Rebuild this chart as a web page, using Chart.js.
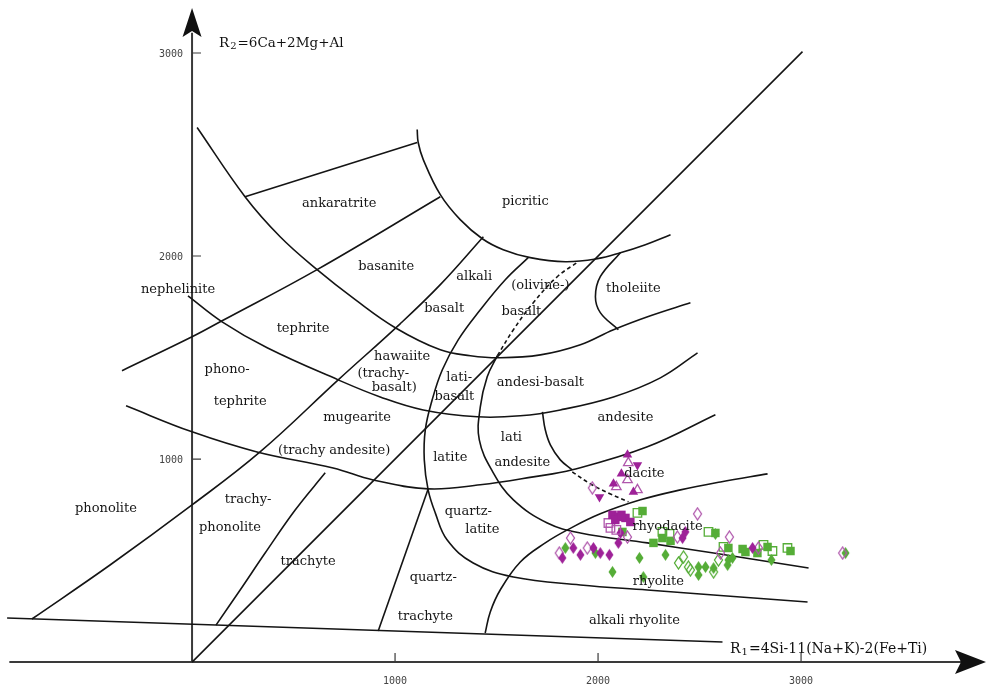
<!DOCTYPE html>
<html lang="en">
<head>
<meta charset="UTF-8" />
<title>R1-R2 diagram</title>
<script src="https://cdn.jsdelivr.net/npm/chart.js"></script>
<style>
	html, body { margin: 0; padding: 0; background: #fff; }
	#wrap { width: 986px; height: 684px; position: relative; }
</style>
</head>
<body>
<div id="wrap"><canvas id="r1r2"></canvas></div>
<script>
// axis ticks
const tickValues = [1000, 2000, 3000];

// field boundaries, points as [R1, R2]
const baseLine = [[-911, 217], [2613, 99]];
const phonoliteLine = [[-789, 212], [-404, 478], [0, 774], [335, 1035], [720, 1390], [1025, 1666], [1223, 1859], [1435, 2095]];
const diagonalLine = [[0, 0], [3007, 3007]];
const trachyteLine = [[118, 182], [237, 355], [360, 537], [508, 749], [656, 932]];
const quartzTrachyteLine = [[917, 153], [1163, 853]];
const alkaliRhyoliteLine = [[1444, 143], [1469, 247], [1518, 355], [1617, 493], [1740, 587], [1849, 651], [2011, 730], [2209, 799], [2406, 848], [2603, 887], [2835, 927]];
const latiteLine = [[1656, 1992], [1543, 1883], [1420, 1735], [1311, 1587], [1233, 1440], [1183, 1292], [1149, 1144], [1144, 996], [1163, 848], [1198, 735], [1257, 601], [1385, 488], [1583, 419], [1913, 380], [2243, 355], [2569, 330], [3032, 296]];
const rhyoliteLine = [[1504, 1509], [1454, 1405], [1420, 1257], [1415, 1094], [1484, 932], [1583, 799], [1750, 685], [1913, 636], [2243, 587], [2569, 537], [3037, 463]];
const andesiteLine = [[1726, 1232], [1740, 1144], [1765, 1070], [1814, 996], [1873, 947]];
const tholeiiteLine = [[2110, 2016], [2011, 1898], [1987, 1799], [2011, 1721], [2100, 1637]];
const picriticLine = [[1109, 2623], [1114, 2559], [1139, 2475], [1223, 2302], [1321, 2179], [1430, 2085], [1533, 2031], [1666, 1992], [1839, 1972], [1997, 1987], [2110, 2016], [2233, 2056], [2357, 2105]];
const ankaratriteLine = [[261, 2292], [1109, 2559]];
const basaniteLine = [[-345, 1435], [0, 1602], [148, 1681], [616, 1933], [1223, 2292]];
const nephelinitLine = [[25, 2633], [261, 2292], [434, 2095], [616, 1933], [804, 1785], [1001, 1647], [1223, 1538], [1371, 1509], [1518, 1499], [1716, 1513], [1913, 1563], [2076, 1637], [2258, 1706], [2455, 1770]];
const tephriteLine = [[-20, 1804], [148, 1676], [370, 1548], [720, 1390], [927, 1306], [1139, 1242], [1405, 1208], [1617, 1213], [1814, 1242], [2076, 1306], [2307, 1400], [2490, 1523]];
const mugeariteLine = [[-325, 1262], [0, 1134], [320, 1035], [695, 956], [892, 897], [1163, 853], [1420, 873], [1681, 912], [1873, 947], [2243, 1060], [2578, 1218]];
const olivineDash = [[1504, 1509], [1583, 1637], [1681, 1770], [1799, 1898], [1903, 1972]];
const daciteDash = [[1873, 937], [1962, 878], [2061, 828], [2150, 789]];

// samples
const magTriUp = [[2145, 1021], [2115, 927], [2076, 878], [2174, 838]];
const magTriDown = [[2194, 971], [2007, 813]];
const magTriOpen = [[2149, 981], [2145, 897], [2090, 863], [2194, 848]];
const magSquare = [[2071, 725], [2100, 715], [2135, 710], [2159, 690], [2085, 700], [2115, 725]];
const magSquareOpen = [[2051, 685], [2061, 661], [2090, 651]];
const magDiamond = [[1824, 513], [1878, 562], [1913, 528], [1977, 562], [2011, 537], [2056, 528], [2110, 636], [2100, 587], [2416, 611], [2430, 641], [2761, 562]];
const magDiamondOpen = [[1864, 611], [1809, 537], [1947, 562], [2145, 616], [1972, 858], [2391, 616], [2490, 730], [2647, 616], [2790, 562], [2603, 537], [3205, 537]];
const grnSquare = [[2219, 744], [2273, 587], [2317, 611], [2357, 597], [2578, 636], [2642, 562], [2712, 557], [2726, 542], [2835, 567], [2785, 537], [2948, 547], [2120, 641]];
const grnSquareOpen = [[2194, 735], [2317, 641], [2352, 631], [2544, 641], [2618, 567], [2815, 577], [2859, 547], [2933, 562]];
const grnDiamond = [[1839, 562], [1987, 537], [2071, 444], [2204, 513], [2223, 419], [2332, 528], [2495, 468], [2529, 468], [2495, 429], [2569, 463], [2638, 478], [2642, 503], [2662, 513], [2854, 503], [3219, 537], [2578, 631]];
const grnDiamondOpen = [[2421, 518], [2396, 488], [2445, 468], [2455, 454], [2569, 444], [2593, 503]];

// field names [text, R1, R2]
const fieldNames = [
	["ankaratrite", 725, 2258], ["picritic", 1642, 2268], ["basanite", 956, 1947],
	["alkali", 1390, 1898], ["(olivine-)", 1716, 1854], ["tholeiite", 2174, 1839],
	["nephelinite", -69, 1834], ["basalt", 1242, 1740], ["basalt", 1622, 1725],
	["tephrite", 547, 1642], ["hawaiite", 1035, 1504], ["phono-", 173, 1440],
	["(trachy-", 942, 1420], ["lati-", 1316, 1400], ["andesi-basalt", 1716, 1375],
	["basalt)", 996, 1351], ["basalt", 1292, 1306], ["tephrite", 237, 1282],
	["mugearite", 813, 1203], ["andesite", 2135, 1203], ["lati", 1573, 1104],
	["(trachy andesite)", 700, 1040], ["latite", 1272, 1006], ["andesite", 1627, 981],
	["dacite", 2228, 927], ["phonolite", -424, 754], ["trachy-", 276, 799],
	["quartz-", 1361, 739], ["phonolite", 187, 661], ["rhyodacite", 2342, 666],
	["latite", 1430, 651], ["trachyte", 572, 493], ["quartz-", 1188, 414],
	["rhyolite", 2297, 394], ["trachyte", 1149, 222], ["alkali rhyolite", 2179, 202],
];

const MAGENTA = "#9e2198";
const MAGENTA_LT = "#b057ac";
const GREEN = "#55ad37";

const xy = (arr) => arr.map((p) => ({ x: p[0], y: p[1] }));

// tall diamond marker drawn on a small canvas
function diamond(color, filled) {
	const c = document.createElement("canvas");
	c.width = 11;
	c.height = 14;
	const g = c.getContext("2d");
	g.beginPath();
	g.moveTo(5.5, 1);
	g.lineTo(9.5, 7);
	g.lineTo(5.5, 13);
	g.lineTo(1.5, 7);
	g.closePath();
	if (filled) {
		g.fillStyle = color;
		g.fill();
	} else {
		g.strokeStyle = color;
		g.lineWidth = 1.3;
		g.stroke();
	}
	return c;
}

function boundary(points, tension, dashed) {
	return {
		data: xy(points),
		showLine: true,
		borderColor: "#141414",
		borderWidth: 1.6,
		borderDash: dashed ? [4, 3] : [],
		pointRadius: 0,
		tension: tension,
		order: 2,
	};
}

function samples(points, style, color, filled, radius, rotation) {
	return {
		data: xy(points),
		pointStyle: style,
		pointRadius: radius,
		pointRotation: rotation || 0,
		backgroundColor: filled ? color : "rgba(255,255,255,0)",
		borderColor: color,
		borderWidth: filled ? 0 : 1.3,
		order: 1,
	};
}

// axes, arrows, tick labels and axis titles
const frame = {
	id: "frame",
	beforeDatasetsDraw(chart) {
		const { ctx, scales } = chart;
		const X = (v) => scales.x.getPixelForValue(v);
		const Y = (v) => scales.y.getPixelForValue(v);
		const x0 = X(0), y0 = Y(0);
		ctx.save();
		ctx.strokeStyle = "#3a3a3a";
		ctx.fillStyle = "#111";
		ctx.lineWidth = 2;
		// R1 axis
		ctx.beginPath();
		ctx.moveTo(X(-900), y0);
		ctx.lineTo(X(3860), y0);
		ctx.stroke();
		ctx.beginPath();
		ctx.moveTo(chart.width, y0);
		ctx.lineTo(chart.width - 31, y0 - 12);
		ctx.lineTo(chart.width - 25, y0);
		ctx.lineTo(chart.width - 31, y0 + 12);
		ctx.closePath();
		ctx.fill();
		// R2 axis
		ctx.beginPath();
		ctx.moveTo(x0, y0);
		ctx.lineTo(x0, Y(3100));
		ctx.stroke();
		ctx.beginPath();
		ctx.moveTo(x0, 8);
		ctx.lineTo(x0 - 9.5, 37);
		ctx.lineTo(x0, 31);
		ctx.lineTo(x0 + 9.5, 37);
		ctx.closePath();
		ctx.fill();
		// ticks
		ctx.lineWidth = 1.2;
		ctx.font = "10px 'DejaVu Sans Mono'";
		ctx.fillStyle = "#444";
		tickValues.forEach((v) => {
			ctx.beginPath();
			ctx.moveTo(X(v), y0);
			ctx.lineTo(X(v), y0 - 9);
			ctx.moveTo(x0, Y(v));
			ctx.lineTo(x0 + 9, Y(v));
			ctx.stroke();
			ctx.textAlign = "center";
			ctx.textBaseline = "middle";
			ctx.fillText(String(v), X(v), y0 + 19);
			ctx.textAlign = "right";
			ctx.fillText(String(v), x0 - 9, Y(v) + 1);
		});
		// axis titles
		ctx.fillStyle = "#111";
		ctx.textAlign = "left";
		ctx.textBaseline = "alphabetic";
		const title = (x, y, size, sub, rest) => {
			ctx.font = size + "px 'DejaVu Serif'";
			ctx.fillText("R", x, y);
			let w = ctx.measureText("R").width + 1;
			ctx.font = Math.round(size * 0.72) + "px 'DejaVu Serif'";
			ctx.fillText(sub, x + w, y + 2);
			w += ctx.measureText(sub).width + 1;
			ctx.font = size + "px 'DejaVu Serif'";
			ctx.fillText(rest, x + w, y);
		};
		title(219, 47, 13.5, "2", "=6Ca+2Mg+Al");
		title(730, 653, 14, "1", "=4Si-11(Na+K)-2(Fe+Ti)");
		ctx.restore();
	},
	afterDatasetsDraw(chart) {
		const { ctx, scales } = chart;
		ctx.save();
		ctx.font = "13px 'DejaVu Serif'";
		ctx.fillStyle = "#161616";
		ctx.textAlign = "center";
		ctx.textBaseline = "middle";
		fieldNames.forEach(([t, r1, r2]) => {
			ctx.fillText(t, scales.x.getPixelForValue(r1), scales.y.getPixelForValue(r2));
		});
		ctx.restore();
	},
};

new Chart(document.getElementById("r1r2"), {
	type: "scatter",
	data: {
		datasets: [
			samples(magTriUp, "triangle", MAGENTA, true, 5.5),
			samples(magTriDown, "triangle", MAGENTA, true, 5.5, 180),
			samples(magTriOpen, "triangle", MAGENTA_LT, false, 5.5),
			samples(magSquare, "rect", MAGENTA, true, 6),
			samples(magSquareOpen, "rect", MAGENTA_LT, false, 6),
			samples(magDiamond, diamond(MAGENTA, true), MAGENTA, true, 6),
			samples(magDiamondOpen, diamond(MAGENTA_LT, false), MAGENTA_LT, false, 6),
			samples(grnSquare, "rect", GREEN, true, 6),
			samples(grnSquareOpen, "rect", GREEN, false, 6),
			samples(grnDiamond, diamond(GREEN, true), GREEN, true, 6),
			samples(grnDiamondOpen, diamond(GREEN, false), GREEN, false, 6),
			boundary(baseLine, 0),
			boundary(phonoliteLine, 0.4),
			boundary(diagonalLine, 0),
			boundary(trachyteLine, 0.4),
			boundary(quartzTrachyteLine, 0),
			boundary(alkaliRhyoliteLine, 0.4),
			boundary(latiteLine, 0.4),
			boundary(rhyoliteLine, 0.4),
			boundary(andesiteLine, 0.4),
			boundary(tholeiiteLine, 0.4),
			boundary(picriticLine, 0.4),
			boundary(ankaratriteLine, 0),
			boundary(basaniteLine, 0.4),
			boundary(nephelinitLine, 0.4),
			boundary(tephriteLine, 0.4),
			boundary(mugeariteLine, 0.4),
			boundary(olivineDash, 0.4, true),
			boundary(daciteDash, 0.4, true),
		],
	},
	options: {
		responsive: true,
		maintainAspectRatio: false,
		animation: false,
		layout: { padding: 0, autoPadding: false },
		scales: {
			x: { type: "linear", min: -946, max: 3911, display: false },
			y: { type: "linear", min: -108, max: 3261, display: false },
		},
		plugins: {
			legend: { display: false },
			tooltip: { enabled: false },
		},
	},
	plugins: [frame],
});
</script>
</body>
</html>
